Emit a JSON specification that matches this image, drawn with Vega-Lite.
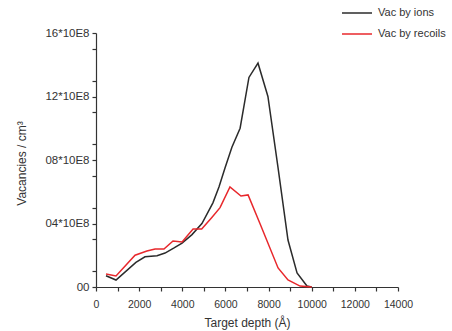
{
  "$schema": "https://vega.github.io/schema/vega-lite/v6.json",
  "width": 302,
  "height": 254,
  "autosize": {"type": "none"},
  "padding": {"left": 96, "top": 33, "right": 54, "bottom": 44},
  "background": "white",
  "config": {
    "view": {"stroke": null},
    "font": "Liberation Sans",
    "axis": {"grid": false, "domainColor": "#333", "tickColor": "#333", "labelColor": "#333", "titleColor": "#333", "labelFont": "Liberation Sans", "titleFont": "Liberation Sans", "labelFontSize": 10.5, "titleFontSize": 12, "titleFontWeight": "normal", "domainWidth": 1.2, "tickWidth": 1.2, "tickSize": 4}
  },
  "data": {
    "values": [
      {"depth": 464, "v": 0.71, "s": "Vac by ions"},
      {"depth": 927, "v": 0.44, "s": "Vac by ions"},
      {"depth": 1850, "v": 1.55, "s": "Vac by ions"},
      {"depth": 2270, "v": 1.9, "s": "Vac by ions"},
      {"depth": 2830, "v": 1.97, "s": "Vac by ions"},
      {"depth": 3200, "v": 2.14, "s": "Vac by ions"},
      {"depth": 3600, "v": 2.45, "s": "Vac by ions"},
      {"depth": 3990, "v": 2.77, "s": "Vac by ions"},
      {"depth": 4450, "v": 3.3, "s": "Vac by ions"},
      {"depth": 4910, "v": 4.0, "s": "Vac by ions"},
      {"depth": 5420, "v": 5.3, "s": "Vac by ions"},
      {"depth": 5700, "v": 6.3, "s": "Vac by ions"},
      {"depth": 5980, "v": 7.5, "s": "Vac by ions"},
      {"depth": 6300, "v": 8.8, "s": "Vac by ions"},
      {"depth": 6680, "v": 10.0, "s": "Vac by ions"},
      {"depth": 7090, "v": 13.2, "s": "Vac by ions"},
      {"depth": 7510, "v": 14.1, "s": "Vac by ions"},
      {"depth": 7970, "v": 12.0, "s": "Vac by ions"},
      {"depth": 8440, "v": 7.5, "s": "Vac by ions"},
      {"depth": 8900, "v": 2.96, "s": "Vac by ions"},
      {"depth": 9320, "v": 0.88, "s": "Vac by ions"},
      {"depth": 9780, "v": 0.06, "s": "Vac by ions"},
      {"depth": 10000, "v": 0, "s": "Vac by ions"},
      {"depth": 464, "v": 0.82, "s": "Vac by recoils"},
      {"depth": 927, "v": 0.69, "s": "Vac by recoils"},
      {"depth": 1810, "v": 2.0, "s": "Vac by recoils"},
      {"depth": 2360, "v": 2.27, "s": "Vac by recoils"},
      {"depth": 2740, "v": 2.39, "s": "Vac by recoils"},
      {"depth": 3150, "v": 2.39, "s": "Vac by recoils"},
      {"depth": 3570, "v": 2.9, "s": "Vac by recoils"},
      {"depth": 3990, "v": 2.83, "s": "Vac by recoils"},
      {"depth": 4500, "v": 3.65, "s": "Vac by recoils"},
      {"depth": 4900, "v": 3.65, "s": "Vac by recoils"},
      {"depth": 5380, "v": 4.4, "s": "Vac by recoils"},
      {"depth": 5750, "v": 5.0, "s": "Vac by recoils"},
      {"depth": 6210, "v": 6.3, "s": "Vac by recoils"},
      {"depth": 6720, "v": 5.73, "s": "Vac by recoils"},
      {"depth": 7050, "v": 5.8, "s": "Vac by recoils"},
      {"depth": 7600, "v": 4.0, "s": "Vac by recoils"},
      {"depth": 8440, "v": 1.2, "s": "Vac by recoils"},
      {"depth": 8900, "v": 0.44, "s": "Vac by recoils"},
      {"depth": 9460, "v": 0.06, "s": "Vac by recoils"},
      {"depth": 10000, "v": 0, "s": "Vac by recoils"}
    ]
  },
  "mark": {"type": "line", "strokeWidth": 1.5},
  "encoding": {
    "x": {
      "field": "depth", "type": "quantitative",
      "scale": {"domain": [0, 14000], "nice": false},
      "axis": {
        "title": "Target depth (Å)",
        "values": [0,1000,2000,3000,4000,5000,6000,7000,8000,9000,10000,11000,12000,13000,14000],
        "labelExpr": "datum.value % 2000 === 0 ? format(datum.value, 'd') : ''",
        "labelPadding": 8,
        "titlePadding": 8,
        "labelFlush": false,
        "labelOverlap": false
      }
    },
    "y": {
      "field": "v", "type": "quantitative",
      "scale": {"domain": [0, 16], "nice": false},
      "axis": {
        "title": "Vacancies / cm³",
        "values": [0,1,3,4,5,7,8,9,11,12,13,15,16],
        "labelExpr": "datum.value === 0 ? '00' : (datum.value % 4 === 0 ? (datum.value < 10 ? '0' + datum.value : '' + datum.value) + '*10E8' : '')",
        "labelFontSize": 11.5,
        "labelPadding": 3,
        "titlePadding": 16,
        "titleY": 130,
        "labelFlush": false,
        "labelOverlap": false
      }
    },
    "color": {
      "field": "s", "type": "nominal",
      "scale": {"domain": ["Vac by ions", "Vac by recoils"], "range": ["#2b2b2b", "#e8282c"]},
      "legend": {
        "title": null,
        "orient": "none",
        "legendX": 245,
        "legendY": -36,
        "symbolType": "stroke",
        "symbolSize": 900,
        "symbolStrokeWidth": 1.5,
        "labelFont": "Liberation Sans",
        "labelFontSize": 11,
        "labelColor": "#333",
        "rowPadding": -9,
        "labelOffset": 5
      }
    }
  }
}
